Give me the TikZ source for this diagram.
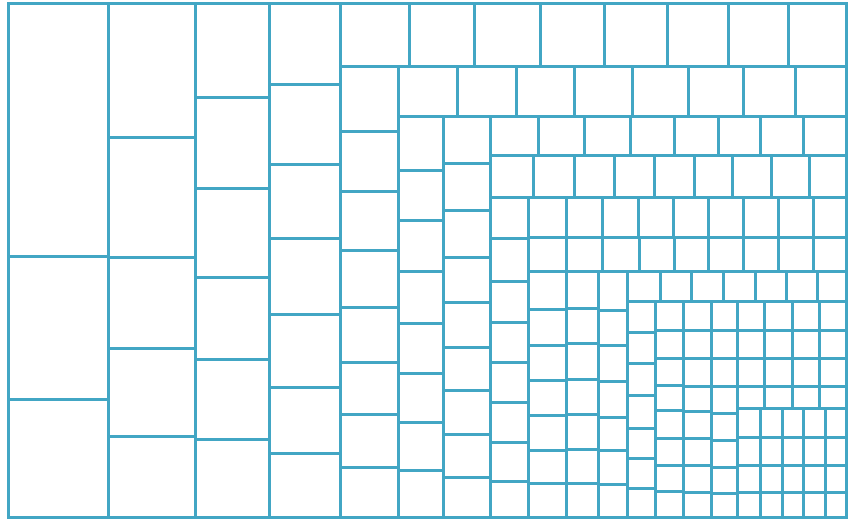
\documentclass[tikz,border=0pt]{standalone}
\usepackage{tikz}
\usepackage{xcolor}
\definecolor{gridcolor}{RGB}{66,166,196}

% one column of cells: left x, right x, top y, cuts down to the bottom
\newcommand{\tmcol}[4]{%
  \foreach \y [remember=\y as \ly (initially #3)] in {#4}
    {\draw[cell] (#1,\ly) rectangle (#2,\y);}}
% one row of cells: top y, bottom y, left x, cuts across to the right
\newcommand{\tmrow}[4]{%
  \foreach \x [remember=\x as \lx (initially #3)] in {#4}
    {\draw[cell] (\lx,#1) rectangle (\x,#2);}}

\begin{document}
\begin{tikzpicture}[x=1pt, y=-1pt,
    cell/.style={draw=gridcolor, line width=3pt, line join=miter}]

    \useasboundingbox (0,0) rectangle (851,521);

    % big columns on the left
    \tmcol{8}{108}{4}{257,399,517}
    \tmcol{108}{195}{4}{138,258,348,436,517}
    \tmcol{195}{269}{4}{98,189,278,359,439,517}
    \tmcol{269}{340}{4}{85,165,239,314,387,453,517}

    % alternating rows and columns
    \tmrow{4}{67}{340}{409,474,540,604,667,728,788,846}
    \tmcol{340}{398}{67}{132,192,251,307,362,414,467,517}
    \tmrow{67}{117}{398}{457,516,574,632,688,743,795,846}
    \tmcol{398}{443}{117}{171,221,272,323,373,422,470,517}
    \tmcol{443}{490}{117}{164,211,258,302,347,390,434,477,517}
    \tmrow{117}{156}{490}{538,584,630,674,718,760,803,846}
    \tmrow{156}{198}{490}{533,574,614,654,694,732,771,809,846}
    \tmcol{490}{528}{198}{239,282,322,362,402,442,481,517}
    \tmrow{198}{238}{528}{566,602,638,673,708,743,778,813,846}
    \tmrow{238}{272}{528}{566,602,639,674,708,743,778,813,846}
    \tmcol{528}{566}{272}{309,345,380,415,450,483,517}
    \tmcol{566}{598}{272}{308,343,379,414,449,483,517}
    \tmcol{598}{627}{272}{310,345,381,417,450,484,517}
    \tmrow{272}{301}{627}{660,691,723,755,786,817,846}
    \tmcol{627}{655}{301}{332,363,395,428,458,488,517}
    \tmcol{655}{683}{301}{330,358,385,410,438,465,491,517}
    \tmcol{683}{711}{301}{330,358,386,411,438,465,492,517}
    \tmcol{711}{737}{301}{330,358,386,413,440,467,493,517}

    % small cells, bottom right
    \foreach \xa/\xb in {737/764,764/792,792/819,819/846}
      {\tmcol{\xa}{\xb}{301}{330,358,386,408}}
    \foreach \xa/\xb in {737/760,760/782,782/803,803/825,825/846}
      {\tmcol{\xa}{\xb}{408}{437,465,492,517}}

    \draw[cell] (8,4) rectangle (846,517);

\end{tikzpicture}
\end{document}
